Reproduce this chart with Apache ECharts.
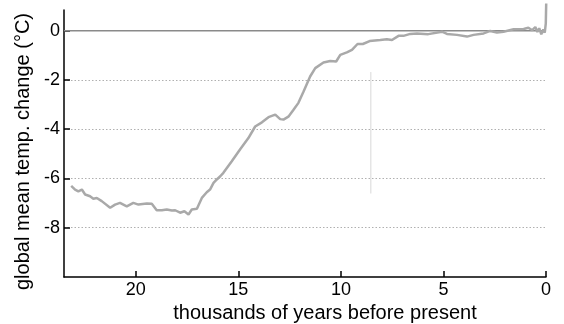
<!DOCTYPE html>
<html>
<head>
<meta charset="utf-8">
<script src="https://cdn.jsdelivr.net/npm/echarts@6/dist/echarts.min.js"></script>
<style>html,body{margin:0;padding:0;background:#fff;}#c{width:564px;height:324px;}</style>
</head>
<body>
<div id="c"></div>
<script>
// thousands of years before present
var kyr = [23.15,22.96,22.80,22.63,22.47,22.23,22.07,21.90,21.66,21.25,21.01,20.77,20.44,20.12,19.87,19.46,19.22,18.98,18.73,18.49,18.24,18.08,17.84,17.63,17.43,17.27,17.02,16.78,16.54,16.38,16.21,16.05,15.88,15.73,15.32,14.91,14.51,14.18,13.85,13.53,13.20,12.96,12.80,12.56,12.31,12.07,11.82,11.50,11.25,10.85,10.52,10.23,10.03,9.71,9.46,9.19,8.93,8.60,8.08,7.76,7.51,7.19,6.95,6.62,6.29,5.74,5.07,4.83,4.34,3.85,3.53,3.04,2.72,2.39,2.07,1.58,1.09,0.86,0.67,0.52,0.42,0.33,0.23,0.13,0.06,0.01,-0.01];
// global mean temperature change (°C)
var temp = [-6.30,-6.45,-6.52,-6.45,-6.65,-6.72,-6.82,-6.79,-6.92,-7.19,-7.06,-6.99,-7.13,-6.99,-7.06,-7.02,-7.03,-7.29,-7.29,-7.26,-7.30,-7.29,-7.39,-7.33,-7.46,-7.26,-7.23,-6.79,-6.56,-6.45,-6.18,-6.04,-5.91,-5.77,-5.30,-4.81,-4.36,-3.89,-3.72,-3.51,-3.41,-3.59,-3.61,-3.49,-3.21,-2.93,-2.47,-1.86,-1.52,-1.29,-1.23,-1.25,-0.98,-0.88,-0.78,-0.54,-0.54,-0.42,-0.38,-0.35,-0.38,-0.21,-0.21,-0.13,-0.11,-0.14,-0.04,-0.13,-0.17,-0.24,-0.17,-0.11,-0.01,-0.07,-0.04,0.06,0.07,0.12,0.02,0.15,-0.05,0.10,-0.15,0.05,-0.08,0.30,1.10];
// zero reference line
var zeroKyr = [23.5, 0];
var zeroTemp = [0, 0];
// faint vertical marker line
var markKyr = [8.54, 8.54];
var markTemp = [-1.68, -6.61];
// tick labels
var xTicks = [0, 5, 10, 15, 20];
var yTicks = [0, -2, -4, -6, -8];

function zip(a, b) { return a.map(function (v, i) { return [v, b[i]]; }); }

var chart = echarts.init(document.getElementById('c'), null, { renderer: 'canvas' });
var font = 'Liberation Sans, Arial, Helvetica, sans-serif';
chart.setOption({
  animation: false,
  backgroundColor: '#fff',
  grid: { left: 64, right: 18, top: 10, bottom: 47, containLabel: false, outerBoundsMode: 'none' },
  xAxis: {
    type: 'value', inverse: true, min: 0, max: 23.5, interval: 5,
    name: 'thousands of years before present', nameLocation: 'middle', nameGap: 19,
    nameTextStyle: { fontFamily: font, fontSize: 20, color: '#000', verticalAlign: 'top', padding: [0, 0, 0, 40] },
    axisLine: { show: true, onZero: false, lineStyle: { color: '#000', width: 1.5 } },
    axisTick: { show: true, inside: true, length: 6, lineStyle: { color: '#000', width: 1.5 }, customValues: xTicks },
    axisLabel: { fontFamily: font, fontSize: 18, color: '#000', margin: 4, customValues: xTicks },
    splitLine: { show: false }
  },
  yAxis: {
    type: 'value', min: -10, max: 0.84, interval: 2,
    name: 'global mean temp. change (°C)', nameLocation: 'middle', nameGap: 30,
    nameTextStyle: { fontFamily: font, fontSize: 20, color: '#000', padding: [0, 16, 0, 0] },
    axisLine: { show: true, onZero: false, lineStyle: { color: '#000', width: 1.5 } },
    axisTick: { show: true, inside: true, length: 6, lineStyle: { color: '#000', width: 1.5 }, customValues: yTicks },
    axisLabel: { fontFamily: font, fontSize: 18, color: '#000', margin: 4, customValues: yTicks },
    splitLine: { show: true, lineStyle: { color: '#b0b0b0', type: [1.5, 2], width: 1 } }
  },
  series: [
    { type: 'line', data: zip(markKyr, markTemp), showSymbol: false, symbol: 'none', clip: false,
      lineStyle: { color: '#d8d8d8', width: 1 }, z: 1 },
    { type: 'line', data: zip(zeroKyr, zeroTemp), showSymbol: false, symbol: 'none', clip: false,
      lineStyle: { color: '#8a8a8a', width: 1.5 }, z: 2 },
    { type: 'line', data: zip(kyr, temp), showSymbol: false, symbol: 'none', clip: false,
      lineStyle: { color: '#a9a9a9', width: 2.5 }, z: 3 }
  ]
});
</script>
</body>
</html>
